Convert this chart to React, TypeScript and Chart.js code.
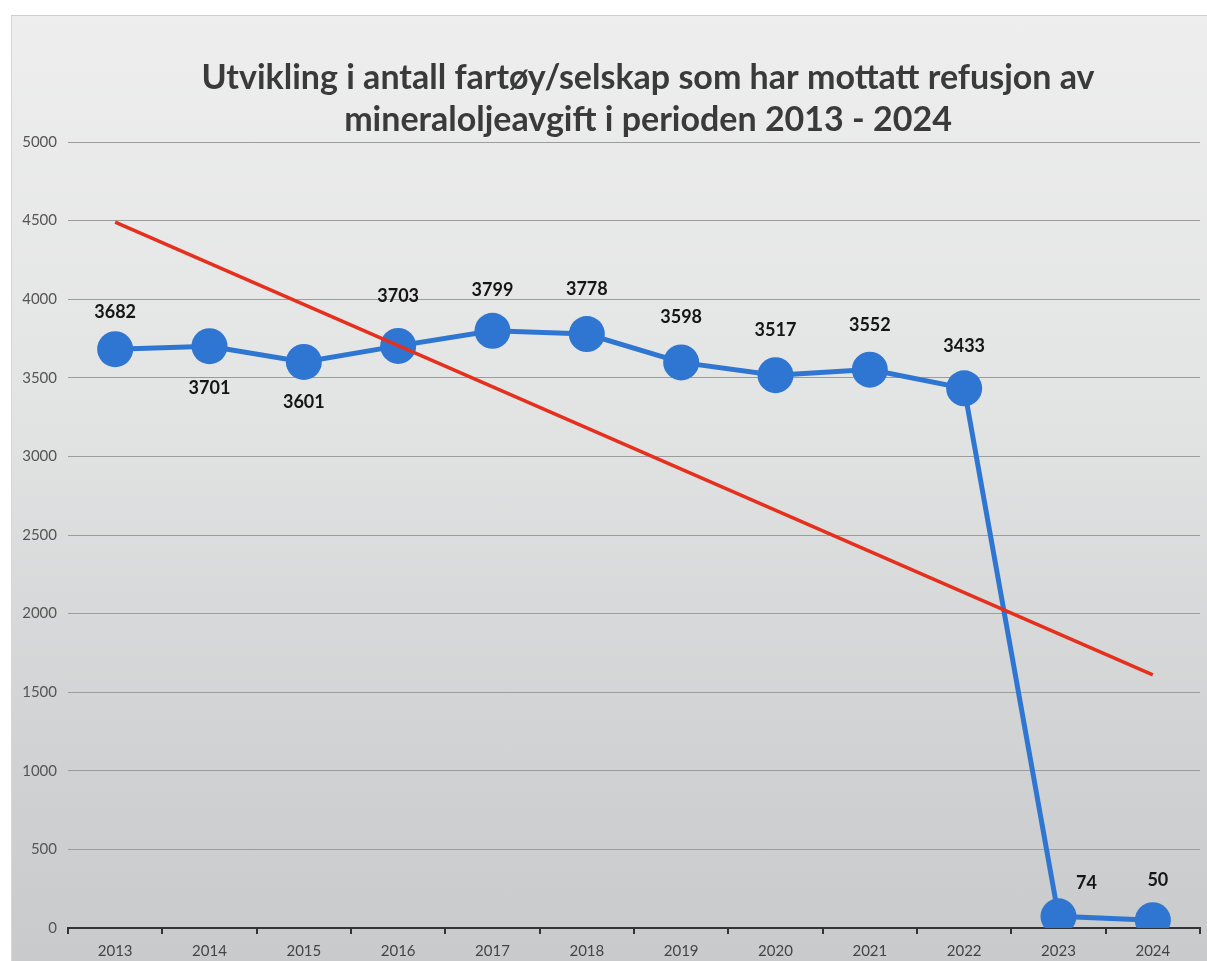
import React, { useEffect, useRef } from "react";
import { Chart, registerables } from "chart.js";

Chart.register(...registerables);

const years = ["2013", "2014", "2015", "2016", "2017", "2018", "2019", "2020", "2021", "2022", "2023", "2024"];
const counts = [3682, 3701, 3601, 3703, 3799, 3778, 3598, 3517, 3552, 3433, 74, 50];
// Trend line end values (start 2013, end 2024)
const trend: (number | null)[] = [4490, null, null, null, null, null, null, null, null, null, null, 1610];

const titleLines = [
  "Utvikling i antall fartøy/selskap som har mottatt refusjon av",
  "mineraloljeavgift i perioden 2013 - 2024",
];

// label placement offsets (dx, dy) relative to each point
const labelOffsets: [number, number][] = [
  [0, -37], [0, 42], [0, 40], [0, -50], [0, -41], [0, -45],
  [0, -45], [0, -45], [0, -44], [0, -42], [28, -33], [5, -40],
];

const BLUE = "#2f76d2";
const RED = "#e6301e";

const valueLabels = {
  id: "valueLabels",
  afterDatasetsDraw(chart: any) {
    const meta = chart.getDatasetMeta(1);
    const ctx = chart.ctx;
    ctx.save();
    ctx.font = "bold 18px Lato";
    ctx.fillStyle = "#151515";
    ctx.textAlign = "center";
    ctx.textBaseline = "middle";
    meta.data.forEach((pt: any, i: number) => {
      const [dx, dy] = labelOffsets[i];
      ctx.fillText(String(counts[i]), pt.x + dx, pt.y + dy);
    });
    ctx.restore();
  },
};

const chartTitle = {
  id: "chartTitle",
  afterDraw(chart: any) {
    const ctx = chart.ctx;
    const { left, right } = chart.chartArea;
    const cx = (left + right) / 2 + 14;
    ctx.save();
    ctx.font = "bold 34px Lato";
    ctx.fillStyle = "#3a3a3a";
    ctx.textAlign = "center";
    ctx.textBaseline = "middle";
    titleLines.forEach((line, i) => {
      ctx.fillText(line, cx, 78 + i * 42);
    });
    ctx.restore();
  },
};

export default function App() {
  const ref = useRef<HTMLCanvasElement>(null);
  useEffect(() => {
    const chart = new Chart(ref.current!, {
      type: "line",
      data: {
        labels: years,
        datasets: [
          {
            label: "Trend",
            data: trend,
            borderColor: RED,
            borderWidth: 3.5,
            pointRadius: 0,
            spanGaps: true,
            fill: false,
            order: 0,
          },
          {
            label: "Antall",
            data: counts,
            borderColor: BLUE,
            backgroundColor: BLUE,
            borderWidth: 5,
            pointRadius: 18,
            pointBorderWidth: 0,
            pointBackgroundColor: BLUE,
            fill: false,
            order: 1,
          },
        ],
      },
      options: {
        responsive: false,
        animation: false,
        layout: { autoPadding: false, padding: { left: 8, right: 7, top: 142, bottom: 0 } },
        plugins: {
          legend: { display: false },
          tooltip: { enabled: false },
          title: { display: false },
        },
        scales: {
          x: {
            offset: true,
            grid: {
              offset: true,
              drawOnChartArea: false,
              drawTicks: true,
              tickLength: 6,
              color: "#333",
              lineWidth: 2,
            },
            border: { display: true, color: "#333", width: 2 },
            ticks: {
              color: "#444",
              font: { family: "Lato", size: 15 },
              padding: 8,
              maxRotation: 0,
            },
            afterFit: (s: any) => {
              s.height = 33;
              s.paddingLeft = 0;
              s.paddingRight = 0;
            },
          },
          y: {
            min: 0,
            max: 5000,
            ticks: {
              stepSize: 500,
              color: "#555",
              font: { family: "Lato", size: 15 },
              padding: 11,
              callback: (v: any) => String(v),
            },
            grid: { color: "#9c9c9c", lineWidth: 1, drawTicks: false },
            border: { display: false },
            afterFit: (s: any) => {
              s.width = 60;
              s.paddingTop = 0;
              s.paddingBottom = 0;
            },
          },
        },
      },
      plugins: [valueLabels, chartTitle],
    });
    return () => chart.destroy();
  }, []);

  return (
    <div style={{ position: "absolute", left: 0, top: 0, width: 1207, height: 961, background: "#fff", overflow: "hidden" }}>
      <div
        style={{
          position: "absolute",
          left: 11,
          top: 15,
          width: 1196,
          height: 946,
          background: "linear-gradient(180deg, #eeeeee 0%, #e3e4e4 40%, #cfd1d2 80%, #c8cacb 100%)",
          borderTop: "1px solid #cfcfcf",
          borderLeft: "1px solid #d6d6d6",
        }}
      />
      <canvas ref={ref} width={1207} height={961} style={{ position: "absolute", left: 0, top: 0 }} />
    </div>
  );
}
